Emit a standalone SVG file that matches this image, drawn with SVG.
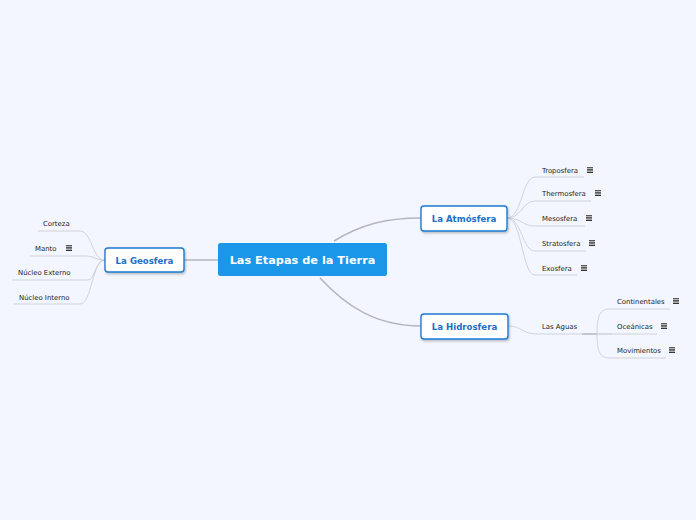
<svg xmlns="http://www.w3.org/2000/svg" width="696" height="520" viewBox="0 0 696 520">
<style>
.bg{fill:#f3f6fe}
.c{fill:none;stroke:#b4b6bc;stroke-width:1.5}
.t{fill:none;stroke:#c8cad0;stroke-width:0.8}
.box{fill:#ffffff;stroke:#1a7ad4;stroke-width:1.4}
.bt{font-family:"DejaVu Sans",Verdana,sans-serif;font-size:8.6px;font-weight:bold;fill:#1a6fc8;text-anchor:middle}
.lt{font-family:"DejaVu Sans",Verdana,sans-serif;font-size:6.9px;fill:#222}
.ct{font-family:"DejaVu Sans",Verdana,sans-serif;font-size:11.3px;font-weight:bold;fill:#ffffff;text-anchor:middle}
</style>
<defs>
<filter id="sh" x="-20%" y="-30%" width="140%" height="170%">
<feDropShadow dx="1" dy="1.5" stdDeviation="1" flood-color="#000" flood-opacity="0.25"/>
</filter>
<g id="ic">
<rect x="0" y="0" width="6" height="6" fill="#fff"/>
<path d="M0 0.7H6M0 2.3H6M0 3.9H6M0 5.5H6" stroke="#333" stroke-width="1"/>
</g>
</defs>
<rect class="bg" x="0" y="0" width="696" height="520"/>
<g id="connectors">
<path class="c" d="M334 241 C360 225 385 218 421 218"/>
<path class="c" d="M320 278 C345 305 375 326 421 326"/>
<path class="c" d="M218 260 H184"/>
<path class="t" d="M507 218 C522 218 522 177 535 177 H584"/>
<path class="t" d="M507 218 C522 218 522 201 535 201 H591"/>
<path class="t" d="M507 218 C522 218 522 226 535 226 H585"/>
<path class="t" d="M507 218 C522 218 522 251 535 251 H586"/>
<path class="t" d="M507 218 C522 218 522 275 535 275 H577"/>
<path class="t" d="M508 326 C522 326 522 334 537 334 H612"/>
<path d="M582 334 H597" stroke="#b0b2b8" stroke-width="1.2"/>
<path class="t" d="M597 334 C597 315 600 309 610 309 H670"/>
<path class="t" d="M597 334 H657"/>
<path class="t" d="M597 334 C597 352 600 358 610 358 H666"/>
<path class="t" d="M105 260 C92 260 92 231 80 231 H38"/>
<path class="t" d="M105 260 C95 260 95 256 85 256 H30"/>
<path class="t" d="M105 260 C95 260 95 280 88 280 H12"/>
<path class="t" d="M105 260 C92 260 92 304 80 304 H13"/>
</g>
<g id="central">
<rect x="218" y="243" width="169" height="33" rx="2.5" fill="#1a97e8"/>
<text class="ct" x="302.5" y="264">Las Etapas de la Tierra</text>
</g>
<g id="atmosfera">
<rect class="box" x="421" y="206" width="86" height="25" rx="3" filter="url(#sh)"/>
<text class="bt" x="464" y="222">La Atmósfera</text>
</g>
<g id="hidrosfera">
<rect class="box" x="421" y="314" width="87" height="25" rx="3" filter="url(#sh)"/>
<text class="bt" x="464.5" y="330">La Hidrosfera</text>
</g>
<g id="geosfera">
<rect class="box" x="105" y="248" width="79" height="24" rx="3" filter="url(#sh)"/>
<text class="bt" x="144.5" y="263.5">La Geosfera</text>
</g>
<g id="troposfera"><text class="lt" x="542" y="172.5">Troposfera</text><use href="#ic" x="587" y="167"/></g>
<g id="thermosfera"><text class="lt" x="542" y="196">Thermosfera</text><use href="#ic" x="595" y="190"/></g>
<g id="mesosfera"><text class="lt" x="542" y="221">Mesosfera</text><use href="#ic" x="586" y="215"/></g>
<g id="stratosfera"><text class="lt" x="542" y="246">Stratosfera</text><use href="#ic" x="589" y="240"/></g>
<g id="exosfera"><text class="lt" x="542" y="270.5">Exosfera</text><use href="#ic" x="581" y="265"/></g>
<g id="lasaguas"><text class="lt" x="542" y="329">Las Aguas</text></g>
<g id="continentales"><text class="lt" x="617" y="304">Continentales</text><use href="#ic" x="673" y="298"/></g>
<g id="oceanicas"><text class="lt" x="617" y="329">Oceánicas</text><use href="#ic" x="661" y="323"/></g>
<g id="movimientos"><text class="lt" x="617" y="353">Movimientos</text><use href="#ic" x="669" y="347"/></g>
<g id="corteza"><text class="lt" x="43" y="226">Corteza</text></g>
<g id="manto"><text class="lt" x="35" y="251">Manto</text><use href="#ic" x="66" y="245"/></g>
<g id="nucleoexterno"><text class="lt" x="18" y="275">Núcleo Externo</text></g>
<g id="nucleointerno"><text class="lt" x="19" y="300">Núcleo Interno</text></g>
</svg>
